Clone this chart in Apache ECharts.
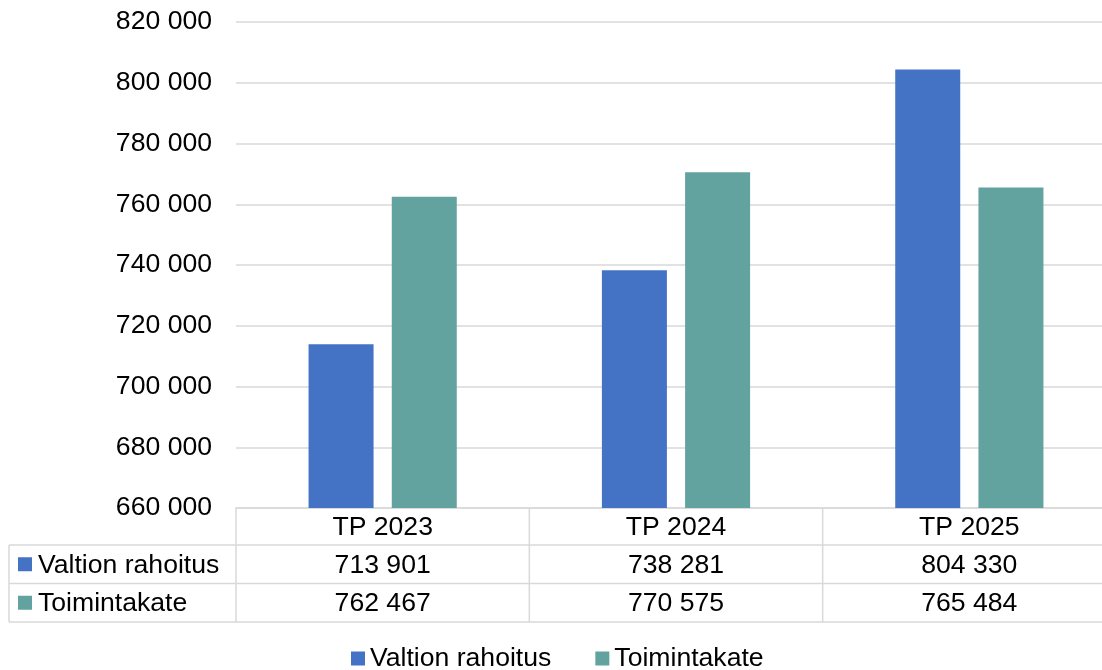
<!DOCTYPE html>
<html>
<head>
<meta charset="utf-8">
<script src="https://cdn.jsdelivr.net/npm/echarts@6/dist/echarts.min.js"></script>
<style>
  html, body { margin: 0; padding: 0; background: #fff; }
  #chart { width: 1102px; height: 670px; }
</style>
</head>
<body>
<div id="chart"></div>
<script>
// Chart data
const categories = ['TP 2023', 'TP 2024', 'TP 2025'];
const seriesNames = ['Valtion rahoitus', 'Toimintakate'];
const valtionRahoitus = [713901, 738281, 804330];
const toimintakate = [762467, 770575, 765484];
const yMin = 660000;
const yMax = 820000;
const yStep = 20000;

const colors = ['#4472C4', '#62A39F'];
const gridColor = '#D9D9D9';
const fontFamily = '"Liberation Sans", Arial, sans-serif';
const fontSize = 26.6;

// Thousands separated by a space
function fmt(v) {
  return String(v).replace(/\B(?=(\d{3})+(?!\d))/g, ' ');
}

const chart = echarts.init(document.getElementById('chart'), null, { renderer: 'canvas' });

chart.setOption({
  animation: false,
  backgroundColor: '#fff',
  textStyle: { fontFamily: fontFamily },
  grid: { left: 236, top: 22, width: 880, height: 486, containLabel: false, outerBoundsMode: 'none' },
  legend: {
    left: 351,
    top: 645,
    padding: 0,
    itemWidth: 14,
    itemHeight: 14,
    itemGap: 44,
    icon: 'rect',
    textStyle: { fontSize: fontSize, color: '#000', fontFamily: fontFamily },
    data: seriesNames
  },
  xAxis: {
    type: 'category',
    data: categories,
    axisLabel: { show: false },
    axisTick: { show: false },
    axisLine: { lineStyle: { color: gridColor, width: 1.5 } }
  },
  yAxis: {
    type: 'value',
    min: yMin,
    max: yMax,
    interval: yStep,
    axisLine: { show: false },
    axisTick: { show: false },
    axisLabel: { formatter: fmt, fontSize: fontSize, color: '#000', margin: 24, fontFamily: fontFamily },
    splitLine: { lineStyle: { color: gridColor, width: 1.5 } }
  },
  series: [
    { name: seriesNames[0], type: 'bar', data: valtionRahoitus, barWidth: 65, barGap: '28%', itemStyle: { color: colors[0] } },
    { name: seriesNames[1], type: 'bar', data: toimintakate, barWidth: 65, barGap: '28%', itemStyle: { color: colors[1] } }
  ]
});

// Data table under the plot, aligned with the category bands
function buildTable() {
  const centers = categories.map(c => chart.convertToPixel({ xAxisIndex: 0 }, c));
  const band = centers.length > 1 ? centers[1] - centers[0] : 880;
  const left = centers[0] - band / 2;
  const right = centers[centers.length - 1] + band / 2;
  const top = chart.convertToPixel({ yAxisIndex: 0 }, yMin);
  const rowH = [37, 38.5, 38.5];
  const y1 = top + rowH[0];
  const y2 = y1 + rowH[1];
  const y3 = y2 + rowH[2];
  const labelLeft = 9;
  const line = { stroke: gridColor, lineWidth: 1.5 };
  const els = [];

  // horizontal rules
  els.push({ type: 'line', shape: { x1: labelLeft, y1: y1, x2: right, y2: y1 }, style: line });
  els.push({ type: 'line', shape: { x1: labelLeft, y1: y2, x2: right, y2: y2 }, style: line });
  els.push({ type: 'line', shape: { x1: labelLeft, y1: y3, x2: right, y2: y3 }, style: line });
  // vertical rules
  els.push({ type: 'line', shape: { x1: labelLeft, y1: y1, x2: labelLeft, y2: y3 }, style: line });
  for (let i = 0; i <= categories.length; i++) {
    const x = left + i * band;
    els.push({ type: 'line', shape: { x1: x, y1: top, x2: x, y2: y3 }, style: line });
  }

  const txt = (x, y, s, align) => ({
    type: 'text', x: x, y: y,
    style: { text: s, fontSize: fontSize, fontFamily: fontFamily, fill: '#000', align: align, verticalAlign: 'middle' }
  });

  categories.forEach((c, i) => {
    els.push(txt(centers[i], top + rowH[0] / 2 + 1, c, 'center'));
    els.push(txt(centers[i], y1 + rowH[1] / 2 + 1, fmt(valtionRahoitus[i]), 'center'));
    els.push(txt(centers[i], y2 + rowH[2] / 2 + 1, fmt(toimintakate[i]), 'center'));
  });

  const rows = [[y1, valtionRahoitus], [y2, toimintakate]];
  rows.forEach((r, k) => {
    const cy = r[0] + rowH[k + 1] / 2;
    els.push({ type: 'rect', shape: { x: 18, y: cy - 7, width: 14, height: 14 }, style: { fill: colors[k] } });
    els.push(txt(38, cy + 1, seriesNames[k], 'left'));
  });

  chart.setOption({ graphic: { elements: els } });
}
buildTable();
</script>
</body>
</html>
